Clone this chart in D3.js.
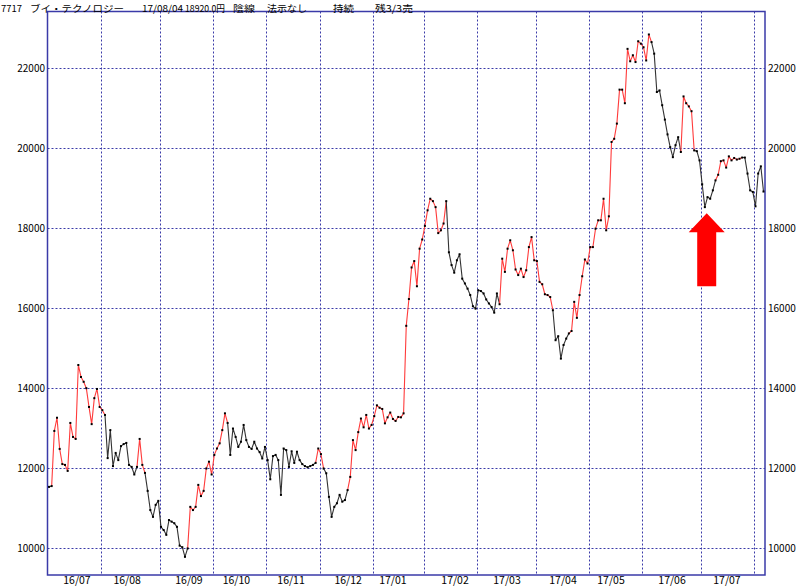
<!DOCTYPE html>
<html><head><meta charset="utf-8">
<script src="https://cdn.jsdelivr.net/npm/d3@7"></script>
<style>body{margin:0;background:#fff}</style>
</head><body>
<svg id="c" width="800" height="587"></svg>
<script>
// ---------- data ----------
const titleParts = ["7717", "ブイ・テクノロジー", "17/08/04", "18920.0円", "陰線", "法示なし", "持続", "残3/3売"];

// daily closes, 2016/07/01 .. 2017/08/04 (269 trading days)
const closes = [
11530,11550,12930,13260,12480,12100,12080,11930,13130,12780,
12730,14580,14280,14160,14000,13530,13100,13750,13980,13530,
13450,13330,12250,12950,12050,12380,12200,12550,12600,12630,
12080,12030,11840,12030,12730,12080,11880,11430,10950,10780,
11080,11180,10530,10450,10330,10700,10660,10620,10530,10060,
10020,9780,9990,11030,10950,11030,11580,11300,11430,11990,
12160,11840,12330,12490,12620,12950,13370,13130,12330,12990,
12780,12530,12660,13080,12700,12530,12480,12660,12490,12400,
12240,12530,12200,11720,12300,12330,12200,11330,12490,12450,
12030,12420,12130,12410,12200,12100,12050,12020,12050,12080,
12130,12490,12350,11990,11870,11280,10780,11030,11120,11330,
11160,11200,11450,11780,12700,12450,12900,13240,13020,13330,
12990,13080,13300,13570,13510,13480,13120,13270,13390,13230,
13180,13280,13270,13370,15560,16230,17020,17180,16550,17490,
17720,18060,18450,18740,18680,18530,17880,17950,18120,18680,
17400,17080,16890,17200,17350,16740,16620,16490,16330,16050,
15990,16450,16430,16370,16220,16120,16030,15890,16370,16100,
17240,16910,17490,17700,17450,16970,16830,16990,16780,16950,
17530,17780,17200,17180,16660,16600,16350,16330,16280,15950,
15200,15300,14740,15080,15240,15370,15430,16160,15760,16330,
16800,17220,17120,17530,17530,17990,18200,18200,18740,17950,
18300,20160,20240,20620,21470,21470,21130,22490,22180,22330,
22160,22680,22620,22530,22200,22850,22660,22370,21410,21450,
21080,20720,20350,20030,19780,20080,20280,19910,21300,21130,
21050,20930,19950,19930,19700,19100,18530,18780,18740,18950,
19200,19340,19680,19700,19520,19800,19700,19760,19720,19740,
19770,19770,19370,18950,18910,18550,19370,19550,18920
];

// signal state runs over segments (r = buy/red, b = sell/black), segment counts
const signalRuns = [["b",1],["r",20],["b",12],["r",3],["b",16],["r",15],["b",33],["r",3],["b",9],
  ["r",37],["b",20],["r",20],["b",6],["r",31],["b",11],["r",5],["b",8],["r",10],["b",8]];

const monthLabels = ["16/07","16/08","16/09","16/10","16/11","16/12","17/01","17/02","17/03","17/04","17/05","17/06","17/07"];
const monthLabelDay = [10.5,29.3,52.5,70.3,90.8,112.2,129,152.3,171.8,192.8,210.8,233.7,254.3];
const monthStartDay = [20,42,62,82,102,122,141,161,183,203,223,245,265];
const yTicks = [10000,12000,14000,16000,18000,20000,22000];

// arrow annotation (day index, values)
const arrowDay = 246.7;
const arrowTip = 18375, arrowHead = 17900, arrowBase = 16550;

// ---------- chart ----------
const svg = d3.select("#c");
const FONT = "'Noto Sans CJK JP',sans-serif";
const L = 47.5, R = 765, T = 11.5, B = 575;
const BLUE = "#3a3aa8";

const x = d3.scaleLinear().domain([0, closes.length - 1]).range([49, 763.5]);
const y = d3.scaleLinear().domain([9325, 23425]).range([B, T]);

// gridlines
const grid = svg.append("g").attr("stroke", BLUE).attr("stroke-width", 1).attr("stroke-dasharray", "2,2");
grid.selectAll("line.h").data(yTicks).join("line")
  .attr("x1", L).attr("x2", R)
  .attr("y1", d => Math.round(y(d)) + 0.5).attr("y2", d => Math.round(y(d)) + 0.5);
grid.selectAll("line.v").data(monthStartDay).join("line")
  .attr("x1", d => Math.round(x(d - 0.5)) + 0.5).attr("x2", d => Math.round(x(d - 0.5)) + 0.5)
  .attr("y1", T).attr("y2", B);

// frame
svg.append("rect").attr("x", L).attr("y", T).attr("width", R - L).attr("height", B - T)
  .attr("fill", "none").attr("stroke", BLUE).attr("stroke-width", 1.5);

// y axis labels (left & right)
const yl = svg.append("g").attr("font-family", FONT).attr("font-size", 10).attr("fill", "#000");
yl.selectAll("text.l").data(yTicks).join("text")
  .attr("x", 45).attr("y", d => y(d)).attr("dy", "0.35em").attr("text-anchor", "end").text(d => d);
yl.selectAll("text.r").data(yTicks).join("text")
  .attr("x", 768).attr("y", d => y(d)).attr("dy", "0.35em").attr("text-anchor", "start").text(d => d);

// x axis labels
svg.append("g").attr("font-family", FONT).attr("font-size", 10.5).attr("fill", "#000")
  .selectAll("text").data(monthLabels).join("text")
  .attr("x", (d, i) => x(monthLabelDay[i])).attr("y", 584).attr("text-anchor", "middle").text(d => d);

// price line, coloured by signal state
const line = d3.line().x(i => x(i)).y(i => y(closes[i]));
let s = 0;
const runs = signalRuns.map(([c, n]) => { const r = {c, from: s, to: s + n}; s += n; return r; });
svg.append("g").attr("fill", "none").attr("stroke-width", 1.1).attr("stroke-linejoin", "round")
  .selectAll("path").data(runs).join("path")
  .attr("stroke", d => d.c === "r" ? "#ff3b3b" : "#333")
  .attr("d", d => line(d3.range(d.from, d.to + 1)));

// dots
svg.append("g").attr("fill", "#000").selectAll("rect").data(closes).join("rect")
  .attr("x", (d, i) => x(i) - 1).attr("y", d => y(d) - 1).attr("width", 2).attr("height", 2);

// arrow
const ax = x(arrowDay);
const pts = [[ax, y(arrowTip)], [ax + 18, y(arrowHead)], [ax + 9.5, y(arrowHead)], [ax + 9.5, y(arrowBase)],
  [ax - 9.5, y(arrowBase)], [ax - 9.5, y(arrowHead)], [ax - 18, y(arrowHead)]];
svg.append("polygon").attr("points", pts.map(p => p.join(",")).join(" ")).attr("fill", "#ff0000");

// title
const titleX = [1, 30, 142, 185, 233, 267, 333, 375];
const titleW = [21, 94, 41, 40, 22, 40, 21, 38];
svg.append("g").attr("font-family", FONT).attr("font-size", 9.5).attr("fill", "#000")
  .selectAll("text").data(titleParts).join("text")
  .attr("x", (d, i) => titleX[i]).attr("y", 11.5)
  .attr("textLength", (d, i) => titleW[i]).attr("lengthAdjust", "spacingAndGlyphs")
  .text(d => d);
</script>
</body></html>
